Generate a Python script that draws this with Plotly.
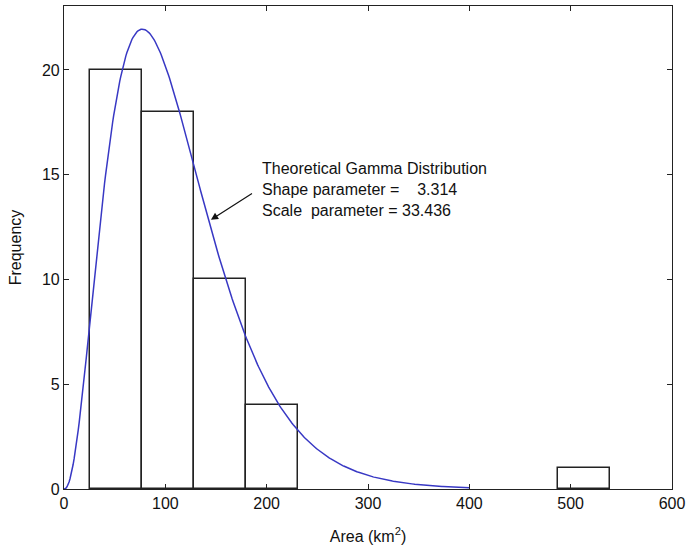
import numpy as np
import plotly.graph_objects as go
from math import gamma as gamma_fn

# Histogram of areas (km^2): bin centres and counts
bin_centers = [51.2, 102.5, 153.8, 205.1, 512.8]
bin_counts = [20, 18, 10, 4, 1]
bin_width = 51.3

# Fitted gamma distribution parameters
shape_k = 3.314
scale_theta = 33.436
curve_scale = 2900  # converts density to frequency
curve_x = np.linspace(0, 400, 401)
curve_y = curve_scale * curve_x ** (shape_k - 1) * np.exp(-curve_x / scale_theta) / (
    gamma_fn(shape_k) * scale_theta ** shape_k)

x_ticks = [0, 100, 200, 300, 400, 500, 600]
y_ticks = [0, 5, 10, 15, 20]

label_lines = [
    "Theoretical Gamma Distribution",
    "Shape parameter =\u00a0\u00a0\u00a0 3.314",
    "Scale\u00a0 parameter = 33.436",
]

FONT = "Liberation Sans, Arial, sans-serif"

fig = go.Figure()
fig.add_trace(go.Bar(
    x=bin_centers, y=bin_counts, width=bin_width,
    marker=dict(color="white", line=dict(color="#222222", width=1.5)),
    showlegend=False, hoverinfo="skip",
))
fig.add_trace(go.Scatter(
    x=curve_x, y=curve_y, mode="lines",
    line=dict(color="#3838c4", width=1.5), showlegend=False,
))

# arrow pointing from the label to the curve
fig.add_annotation(
    x=145, y=12.85, xref="x", yref="y",
    ax=187, ay=14.15, axref="x", ayref="y",
    text="", showarrow=True, arrowhead=2, arrowsize=1.2, arrowwidth=1.2,
    arrowcolor="#111111",
)
fig.add_annotation(
    x=193.5, y=14.29, xref="x", yref="y", xanchor="left", yanchor="middle",
    text="<br>".join(label_lines), showarrow=False, align="left",
    font=dict(family=FONT, size=16, color="#111111"),
)

axis_common = dict(
    showline=True, linecolor="#222222", linewidth=1.2, mirror="ticks",
    ticks="inside", ticklen=5, tickcolor="#222222", showgrid=False, zeroline=False,
    tickfont=dict(family=FONT, size=16, color="#111111"),
)
fig.update_xaxes(range=[0, 600], tickvals=x_ticks, ticklabeloverflow="allow", **axis_common,
                 title=dict(text="Area (km<sup>2</sup>)", standoff=19,
                            font=dict(family=FONT, size=16, color="#111111")))
fig.update_yaxes(range=[0, 23.05], tickvals=y_ticks, **axis_common,
                 title=dict(text="Frequency", standoff=16,
                            font=dict(family=FONT, size=16, color="#111111")))

fig.update_layout(
    width=690, height=554, margin=dict(l=64, r=13, t=5, b=65),
    plot_bgcolor="white", paper_bgcolor="white", bargap=0,
)
fig.write_html("out.html")
